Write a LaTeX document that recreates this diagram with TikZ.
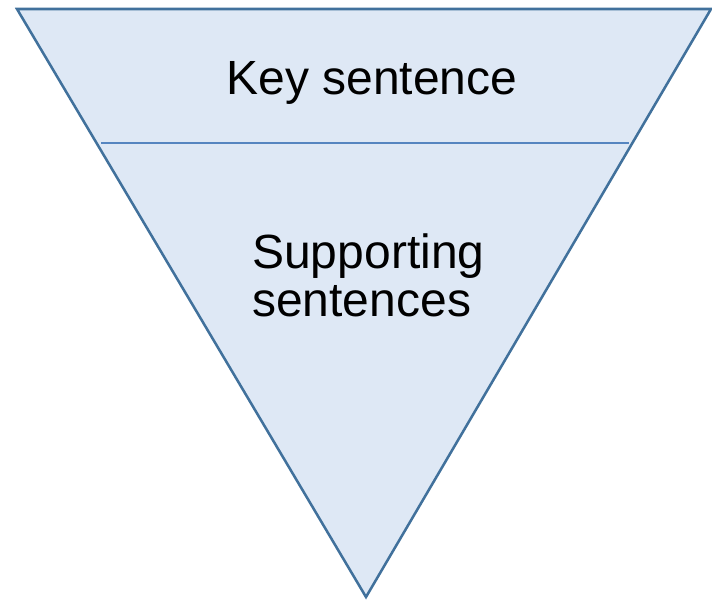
\documentclass[tikz,border=0pt]{standalone}
\usepackage{fontspec}
\setmainfont{Liberation Sans}
\definecolor{fillblue}{HTML}{DEE8F5}
\definecolor{edgeblue}{HTML}{41719C}
\definecolor{divblue}{HTML}{5585C0}
\begin{document}
\begin{tikzpicture}[x=0.75pt,y=-0.75pt,
  lbl/.style={font=\fontsize{36}{36}\selectfont, inner sep=0pt, text=black}]
\useasboundingbox (0,0) rectangle (712,599);
\coordinate (tl) at (17,9);
\coordinate (tr) at (711,9);
\coordinate (bt) at (366,597);
\coordinate (dl) at (101,143);
\coordinate (dr) at (629,143);
\filldraw[fill=fillblue, draw=edgeblue, line width=1.9pt, line join=miter] (tl) -- (tr) -- (bt) -- cycle;
\draw[divblue, line width=1pt] (dl) -- (dr);
\node[lbl, anchor=base] (key) at (372,95) {Key sentence};
\node[lbl, anchor=base west] (sup1) at (252,268) {Supporting};
\node[lbl, anchor=base west] (sup2) at (252,316) {sentences};
\end{tikzpicture}
\end{document}
